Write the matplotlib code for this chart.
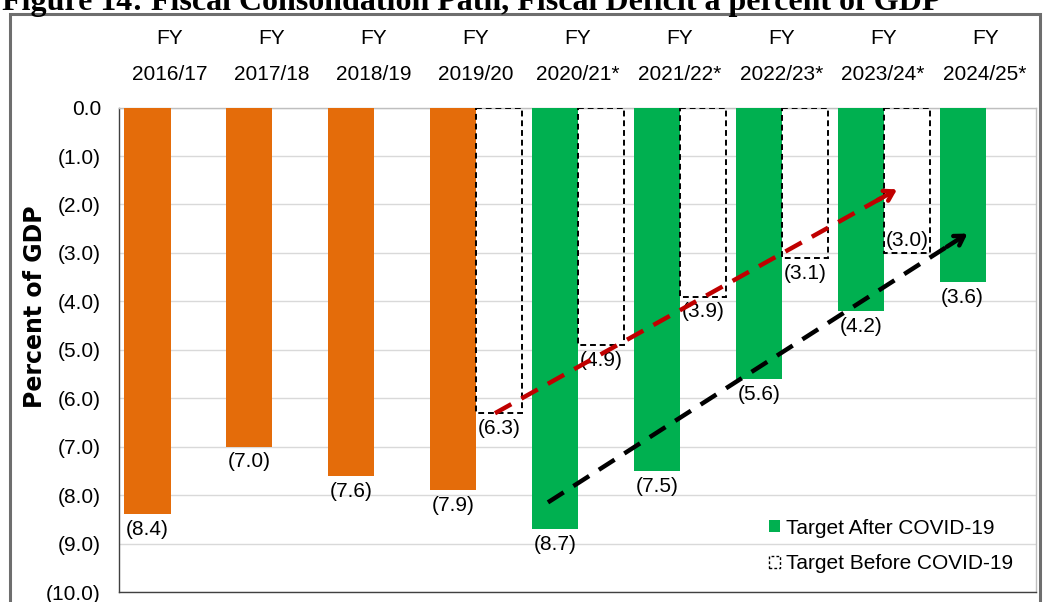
import matplotlib
matplotlib.use("Agg")
import matplotlib.pyplot as plt
from matplotlib.patches import Rectangle, Patch

# data
years = ["2016/17", "2017/18", "2018/19", "2019/20", "2020/21*",
         "2021/22*", "2022/23*", "2023/24*", "2024/25*"]
actual = [-8.4, -7.0, -7.6, -7.9]                 # outturn (orange)
after_covid = [-8.7, -7.5, -5.6, -4.2, -3.6]      # 2020/21 .. 2024/25
before_covid = [-6.3, -4.9, -3.9, -3.1, -3.0]     # 2019/20 .. 2023/24

# trend arrows (data coords: x category, y percent)
red_arrow = [(3.19, -6.31), (7.16, -1.66)]
black_arrow = [(3.71, -8.15), (7.85, -2.57)]

plt.rcParams["font.family"] = ["Liberation Sans", "DejaVu Sans"]

orange = "#E46C0A"
green = "#00B050"

fig = plt.figure(figsize=(10.43, 6.02), dpi=100)
ax = fig.add_axes([0.1141, 0.0166, 0.8792, 0.8047])

w = 0.453
x_act = list(range(len(actual)))
x_after = list(range(4, 4 + len(after_covid)))
x_before = list(range(3, 3 + len(before_covid)))

ax.bar([x - 0.447 for x in x_act], actual, width=w, align="edge",
       color=orange, zorder=3)
ax.bar([x - 0.447 for x in x_after], after_covid, width=w, align="edge",
       color=green, zorder=3)
ax.bar([x + 0.006 for x in x_before], before_covid, width=w, align="edge",
       fill=False, edgecolor="black", linestyle=(0, (3, 2)), linewidth=1.4,
       zorder=3)

lab = dict(fontsize=15, ha="center")
for x, v in zip(x_act, actual):
    ax.text(x - 0.447 + w / 2, v - 0.12, f"({-v:.1f})", va="top", **lab)
for x, v in zip(x_after, after_covid):
    ax.text(x - 0.447 + w / 2, v - 0.12, f"({-v:.1f})", va="top", **lab)
for x, v in zip(x_before, before_covid):
    if v == before_covid[-1]:
        ax.text(x + 0.006 + w / 2, v + 0.06, f"({-v:.1f})", va="bottom", **lab)
    else:
        ax.text(x + 0.006 + w / 2, v - 0.12, f"({-v:.1f})", va="top", **lab)

# trend arrows: dashed shaft + solid open head
for pts, col in [(red_arrow, "#C00000"), (black_arrow, "black")]:
    (x0, y0), (x1, y1) = pts
    ax.plot([x0, x1 - 0.04 * (x1 - x0)], [y0, y1 - 0.04 * (y1 - y0)],
            color=col, lw=3.2, linestyle=(0, (4.2, 2.6)), zorder=5,
            solid_capstyle="butt")
    ax.annotate("", xy=(x1, y1),
                xytext=(x1 - 0.06 * (x1 - x0), y1 - 0.06 * (y1 - y0)),
                arrowprops=dict(arrowstyle="->,head_length=0.65,head_width=0.4",
                                color=col, lw=3.2),
                zorder=5)

ax.set_xlim(-0.5, 8.5)
ax.set_ylim(-10, 0)
ax.set_yticks(range(0, -11, -1))
ax.set_yticklabels(["0.0"] + [f"({i}.0)" for i in range(1, 11)], fontsize=15)
ax.tick_params(axis="y", length=0, pad=13)
ax.grid(axis="y", color="#d9d9d9", lw=1, zorder=0)

ax.xaxis.tick_top()
ax.set_xticks(range(len(years)))
ax.set_xticklabels([f"FY\n{y}" for y in years], fontsize=15, linespacing=2.1)
ax.tick_params(axis="x", length=0, pad=17)

for s in ax.spines.values():
    s.set_color("#bfbfbf")
    s.set_linewidth(1)
ax.spines["bottom"].set_color("#404040")
ax.spines["left"].set_color("#404040")

ax.set_ylabel("Percent of GDP", fontsize=17, fontweight="bold",
              family="DejaVu Sans")
ax.yaxis.set_label_coords(-0.079, 0.588)

handles = [Patch(facecolor=green, edgecolor="none"),
           Patch(facecolor="none", edgecolor="black", linestyle=(0, (2, 1.5)),
                 linewidth=1)]
ax.legend(handles, ["Target After COVID-19", "Target Before COVID-19"],
          loc="lower right", bbox_to_anchor=(0.995, 0.0), frameon=False,
          fontsize=15, handlelength=0.55, handleheight=0.55,
          handletextpad=0.25, labelspacing=0.8, borderaxespad=0.5)

# outer frame and (cropped) title
fig.patches.append(Rectangle((10 / 1043, -0.2), 1030 / 1043, 1.2 - 14 / 602,
                             transform=fig.transFigure, fill=False,
                             edgecolor="#6e6e6e", lw=2.2, zorder=0))
fig.text(0.002, 1 - 10 / 602, "Figure 14: Fiscal Consolidation Path, Fiscal Deficit a percent of GDP",
         family=["Liberation Serif", "DejaVu Serif"], fontweight="bold",
         fontsize=23, va="baseline", ha="left")

fig.savefig("out.png", dpi=100)
